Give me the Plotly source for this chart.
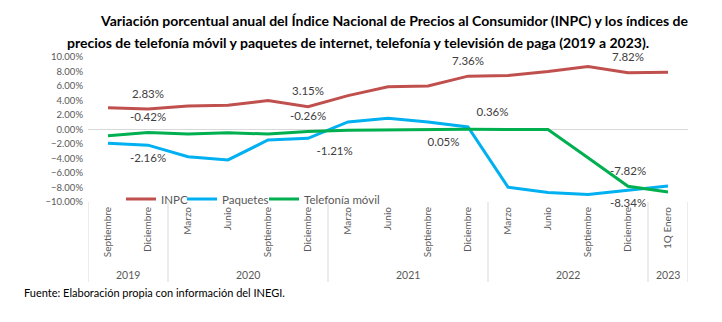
import plotly.graph_objects as go

# ---- data ----
years = ["2019", "2019", "2020", "2020", "2020", "2020", "2021", "2021", "2021", "2021",
         "2022", "2022", "2022", "2022", "2023"]
months = ["Septiembre", "Diciembre", "Marzo", "Junio", "Septiembre", "Diciembre", "Marzo", "Junio",
          "Septiembre", "Diciembre", "Marzo", "Junio", "Septiembre", "Diciembre", "1Q Enero"]
inpc = [3.00, 2.83, 3.25, 3.33, 4.01, 3.15, 4.67, 5.88, 6.00, 7.36, 7.45, 7.99, 8.70, 7.82, 7.88]
paquetes = [-1.90, -2.16, -3.75, -4.20, -1.45, -1.21, 1.05, 1.55, 1.05, 0.36, -7.95, -8.70, -8.95, -8.34, -7.78]
telefonia = [-0.85, -0.42, -0.62, -0.45, -0.62, -0.26, -0.12, -0.05, 0.00, 0.05, 0.00, 0.00, -3.90, -7.82, -8.62]
series_names = ["INPC", "Paquetes", "Telefonía móvil"]

# indices whose values are labelled
inpc_lab = [1, 5, 9, 13]
paq_lab = [1, 5, 9, 13]
tel_lab = [1, 5, 9, 13]

title1 = "Variación porcentual anual del Índice Nacional de Precios al Consumidor (INPC) y los índices de"
title2 = "precios de telefonía móvil y paquetes de internet, telefonía y televisión de paga (2019 a 2023)."
source = "Fuente: Elaboración propia con información del INEGI."

# ---- styles ----
C_INPC = "#C0504D"
C_PAQ = "#00B0F0"
C_TEL = "#00B050"
FONT = "Lato"
GRAY = "#595959"
DIV = "#D9D9D9"

xi = list(range(len(months)))

fig = go.Figure()
legend_ids = ["legend", "legend2", "legend3"]
legend_x_px = [121, 182, 264]
for name, vals, col, lid in zip(series_names, [inpc, paquetes, telefonia], [C_INPC, C_PAQ, C_TEL], legend_ids):
    fig.add_trace(go.Scatter(x=xi, y=vals, mode="lines", name=name, legend=lid,
                             line=dict(color=col, width=3), hoverinfo="skip"))


def labels(vals, idx):
    return [f"{v:.2f}%" if i in idx else "" for i, v in enumerate(vals)]


pos_inpc = ["top center"] * 15
pos_paq = ["bottom center"] * 15
pos_paq[5] = "bottom right"
pos_paq[9] = "top right"
pos_tel = ["top center"] * 15
pos_tel[9] = "bottom left"

for vals, idx, pos in [(inpc, inpc_lab, pos_inpc), (paquetes, paq_lab, pos_paq), (telefonia, tel_lab, pos_tel)]:
    fig.add_trace(go.Scatter(x=xi, y=vals, mode="markers+text", text=labels(vals, idx),
                             textposition=pos, marker=dict(size=12, opacity=0), cliponaxis=False,
                             textfont=dict(family=FONT, size=11.5, color="#404040"),
                             showlegend=False, hoverinfo="skip"))

fig.update_xaxes(range=[-0.5, len(months) - 0.5], tickmode="array", tickvals=xi, ticktext=months,
                 tickangle=-90, showline=False, ticks="", showgrid=False, zeroline=False,
                 ticklabelstandoff=2, tickfont=dict(family=FONT, size=10, color=GRAY))
fig.update_yaxes(range=[-10, 10], dtick=2, tickformat=".2f", ticksuffix="%",
                 showgrid=False, zeroline=True, zerolinecolor=DIV, zerolinewidth=1,
                 showline=False, ticks="", ticklabelstandoff=4,
                 tickfont=dict(family=FONT, size=9.5, color=GRAY))

# year group labels and dividers (from the category list)
groups = []
for i, yv in enumerate(years):
    if not groups or groups[-1][0] != yv:
        groups.append([yv, i, i])
    else:
        groups[-1][2] = i
for yv, a, b in groups:
    fig.add_annotation(text=yv, x=(a + b) / 2, xref="x", y=-0.503, yref="paper",
                       showarrow=False, yanchor="middle",
                       font=dict(family=FONT, size=10.5, color=GRAY))
    for edge in ([a - 0.5, b + 0.5] if a == 0 else [b + 0.5]):
        fig.add_shape(type="line", xref="x", yref="paper", x0=edge, x1=edge, y0=0, y1=-0.552,
                      line=dict(color=DIV, width=1))

fig.add_annotation(text=f"<b>{title1}</b>", xref="paper", yref="paper", x=(394 - 88) / 600, y=(202 - 21) / 145,
                   xanchor="center", yanchor="middle", showarrow=False,
                   font=dict(family=FONT, size=14, color="#000000"))
fig.add_annotation(text=f"<b>{title2}</b>", xref="paper", yref="paper", x=(358 - 88) / 600, y=(202 - 42.5) / 145,
                   xanchor="center", yanchor="middle", showarrow=False,
                   font=dict(family=FONT, size=14, color="#000000"))
fig.add_annotation(text=source, xref="paper", yref="paper", x=(22 - 88) / 600, y=(202 - 292) / 145,
                   xanchor="left", yanchor="middle", showarrow=False,
                   font=dict(family=FONT, size=11, color="#000000"))

leg_common = dict(orientation="h", y=(202 - 199) / 145, xanchor="left", yanchor="middle",
                  bgcolor="rgba(0,0,0,0)", font=dict(family=FONT, size=11.5, color=GRAY),
                  itemwidth=30)
layout_legends = {lid: dict(x=(px - 88) / 600, **leg_common) for lid, px in zip(legend_ids, legend_x_px)}

fig.update_layout(
    width=722, height=322,
    margin=dict(l=88, r=34, t=57, b=120),
    paper_bgcolor="white", plot_bgcolor="white",
    showlegend=True,
    **layout_legends,
)

fig.write_html("out.html")
